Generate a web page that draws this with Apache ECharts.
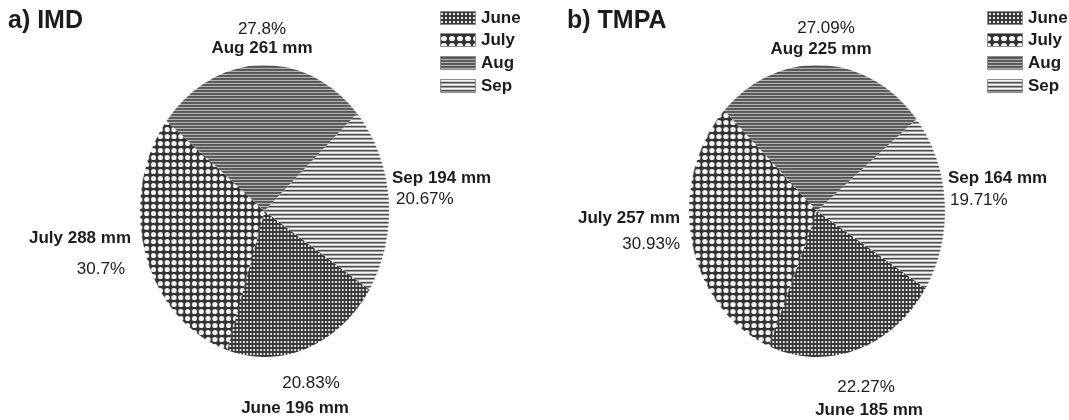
<!DOCTYPE html>
<html>
<head>
<meta charset="utf-8">
<title>Monsoon rainfall share by month</title>
<script src="https://cdn.jsdelivr.net/npm/echarts@6/dist/echarts.min.js"></script>
<style>
  html, body { margin: 0; padding: 0; background: #ffffff; }
  #wrap { position: relative; width: 1069px; height: 420px; overflow: hidden; }
  .pies { position: absolute; left: 0; top: 0; height: 420px; transform-origin: 0 0; }
  #text { position: absolute; left: 0; top: 0; width: 1069px; height: 420px; }
</style>
</head>
<body>
<div id="wrap">
  <div id="pieA" class="pies"></div>
  <div id="pieB" class="pies"></div>
  <div id="text"></div>
</div>
<script>
// Monthly rainfall (mm) and share of the season (%)
const months = ['June', 'July', 'Aug', 'Sep'];
const imdMm = [196, 288, 261, 194];
const imdPct = [20.83, 30.7, 27.8, 20.67];
const tmpaMm = [185, 257, 225, 164];
const tmpaPct = [22.27, 30.93, 27.09, 19.71];
const panelTitles = ['a) IMD', 'b) TMPA'];

const W = 1069, H = 420;
const FONT = '"Liberation Sans", Arial, sans-serif';
const INK = '#1c1c1c';

function tile(w, h, draw) {
  const c = document.createElement('canvas');
  c.width = w; c.height = h;
  draw(c.getContext('2d'));
  return c;
}
function rows(colors) {
  return tile(4, colors.length, g => {
    colors.forEach((col, i) => { g.fillStyle = col; g.fillRect(0, i, 4, 1); });
  });
}
// Fill patterns, one per month
const patterns = {
  June: tile(4, 4, g => {
    g.fillStyle = '#3a3a3a'; g.fillRect(0, 0, 4, 4);
    g.fillStyle = '#e6e6e6'; g.fillRect(1, 1, 2, 2);
  }),
  July: tile(8, 7, g => {
    g.fillStyle = '#333333'; g.fillRect(0, 0, 8, 7);
    g.fillStyle = '#f6f6f6';
    g.beginPath(); g.ellipse(4, 3.5, 3.0, 2.6, 0, 0, Math.PI * 2); g.fill();
  }),
  Aug: rows(['#575757', '#5f5f5f', '#b2b2b2']),
  Sep: rows(['#f4f4f4', '#d6d6d6', '#4a4a4a', '#9c9c9c'])
};
function fillOf(name) {
  return { image: patterns[name], repeat: 'repeat' };
}

// ---------- pie layers (each squeezed horizontally into an oval) ----------
// [centre x, horizontal radius, vertical radius, centre y, bearing where June starts]
const pieGeom = [
  [264.5, 124.5, 146, 211, 122.5],
  [817, 128, 146, 211, 122]
];

function drawPie(domId, pct, geom) {
  const [cx, rx, ry, cy, startBearing] = geom;
  const sx = rx / ry;
  const dom = document.getElementById(domId);
  dom.style.width = Math.ceil(W / sx) + 'px';
  dom.style.transform = 'scaleX(' + sx + ')';
  const chart = echarts.init(dom, null, { renderer: 'canvas' });
  chart.setOption({
    animation: false,
    series: [{
      type: 'pie',
      center: [cx / sx, cy],
      radius: ry,
      startAngle: 90 - startBearing,
      clockwise: true,
      silent: true,
      label: { show: false },
      labelLine: { show: false },
      emphasis: { disabled: true },
      itemStyle: { borderWidth: 0 },
      data: months.map((m, i) => ({ name: m, value: pct[i], itemStyle: { color: fillOf(m) } }))
    }]
  });
}
drawPie('pieA', imdPct, pieGeom[0]);
drawPie('pieB', tmpaPct, pieGeom[1]);

// ---------- text layer: titles, legends, slice labels ----------
const textChart = echarts.init(document.getElementById('text'), null, { renderer: 'canvas' });

function txt(s, x, y, align, bold, size) {
  return {
    type: 'text', x: x, y: y, silent: true,
    style: {
      text: s, fill: INK,
      font: (bold ? 'bold ' : '') + size + 'px ' + FONT,
      align: align, textAlign: align,
      verticalAlign: 'middle', textVerticalAlign: 'middle'
    }
  };
}

// label anchors per month: [name line x, y, align], [percent line x, y, align]
const labelSpots = [
  { // IMD
    June: [[295, 408, 'center'], [311, 383, 'center']],
    July: [[131, 238, 'right'], [125, 269, 'right']],
    Aug:  [[262, 48, 'center'], [262, 29, 'center']],
    Sep:  [[392, 178, 'left'], [396, 199, 'left']]
  },
  { // TMPA
    June: [[869, 410, 'center'], [866, 387, 'center']],
    July: [[680, 218, 'right'], [680, 244, 'right']],
    Aug:  [[821, 49, 'center'], [826, 28, 'center']],
    Sep:  [[948, 178, 'left'], [950, 200, 'left']]
  }
];
const titleSpots = [[8, 21], [567, 21]];
const legendLeft = [440, 987];
const legendTops = [11, 33, 56, 79];

const elements = [];
[[imdMm, imdPct], [tmpaMm, tmpaPct]].forEach(([mm, pct], p) => {
  elements.push(txt(panelTitles[p], titleSpots[p][0], titleSpots[p][1], 'left', true, 25));
  months.forEach((m, i) => {
    const spot = labelSpots[p][m];
    elements.push(txt(m + ' ' + mm[i] + ' mm', spot[0][0], spot[0][1], spot[0][2], true, 17));
    elements.push(txt(pct[i] + '%', spot[1][0], spot[1][1], spot[1][2], false, 17));
    // legend entry
    elements.push({
      type: 'rect', silent: true,
      shape: { x: legendLeft[p] + 0.5, y: legendTops[i] + 0.5, width: 35, height: 13 },
      style: { fill: fillOf(m), stroke: '#8a8a8a', lineWidth: 1 }
    });
    elements.push(txt(m, legendLeft[p] + 41, legendTops[i] + 7.5, 'left', true, 17));
  });
});

textChart.setOption({ animation: false, graphic: { elements: elements } });
</script>
</body>
</html>
